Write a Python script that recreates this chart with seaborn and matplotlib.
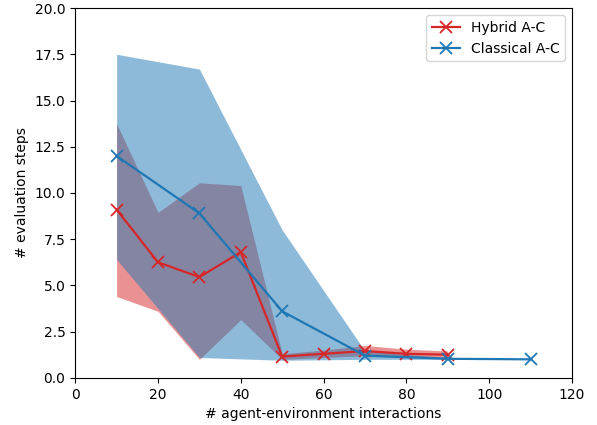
import numpy as np
import pandas as pd
import matplotlib
matplotlib.use("Agg")
import matplotlib.pyplot as plt
import seaborn as sns

# Hybrid A-C
hyb_x = [10, 20, 30, 40, 50, 60, 70, 80, 90]
hyb_mean = [9.1, 6.25, 5.45, 6.8, 1.15, 1.3, 1.45, 1.3, 1.25]
hyb_low = [4.4, 3.6, 1.0, 3.15, 1.0, 1.1, 1.2, 1.1, 1.1]
hyb_high = [13.75, 8.95, 10.55, 10.4, 1.3, 1.5, 1.75, 1.55, 1.45]

# Classical A-C
cls_x = [10, 30, 50, 70, 90, 110]
cls_mean = [12.0, 8.9, 3.6, 1.2, 1.03, 1.0]
cls_low = [6.4, 1.1, 0.95, 1.0, 1.0, 1.0]
cls_high = [17.5, 16.7, 8.0, 1.45, 1.1, 1.0]

plt.rcParams["font.family"] = ["DejaVu Sans"]

fig, ax = plt.subplots(figsize=(5.97, 4.25), dpi=100)
fig.subplots_adjust(left=0.126, right=0.958, top=0.981, bottom=0.111)

red = "#d62728"
blue = "#1f77b4"

ax.fill_between(hyb_x, hyb_low, hyb_high, color=red, alpha=0.5, linewidth=0)
ax.fill_between(cls_x, cls_low, cls_high, color=blue, alpha=0.5, linewidth=0)

hyb = pd.DataFrame({"x": hyb_x, "y": hyb_mean})
cls = pd.DataFrame({"x": cls_x, "y": cls_mean})
sns.lineplot(data=hyb, x="x", y="y", ax=ax, color=red, marker="x",
             markersize=8, markeredgewidth=1.3, markeredgecolor=red,
             linewidth=1.6, label="Hybrid A-C")
sns.lineplot(data=cls, x="x", y="y", ax=ax, color=blue, marker="x",
             markersize=8, markeredgewidth=1.3, markeredgecolor=blue,
             linewidth=1.6, label="Classical A-C")

ax.set_xlim(0, 120)
ax.set_ylim(0, 20)
ax.set_xticks(np.arange(0, 121, 20))
ax.set_yticks(np.arange(0, 20.01, 2.5))
ax.set_yticklabels([f"{v:.1f}" for v in np.arange(0, 20.01, 2.5)])
ax.set_xlabel("# agent-environment interactions")
ax.set_ylabel("# evaluation steps")
ax.legend(loc="upper right")

fig.savefig("out.png", dpi=100)
